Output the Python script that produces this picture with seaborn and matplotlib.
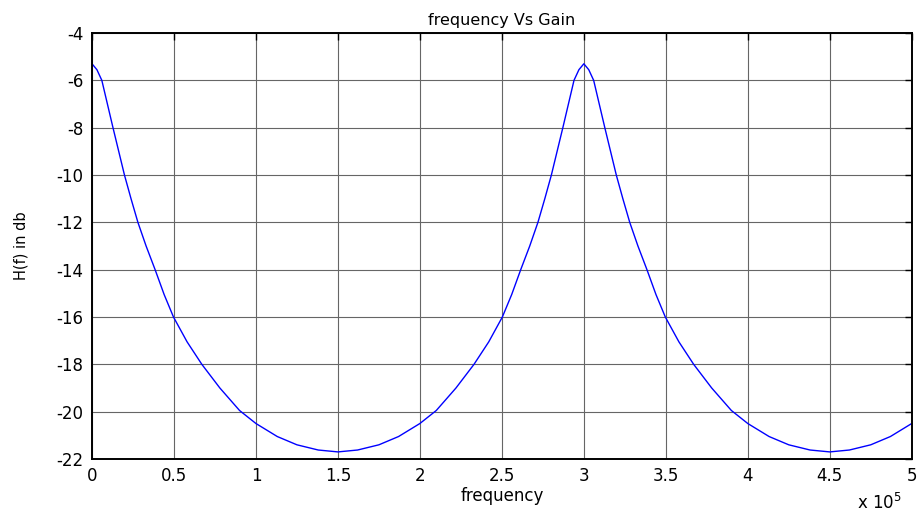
import matplotlib
matplotlib.use("Agg")
import matplotlib.pyplot as plt
import seaborn as sns
from matplotlib.ticker import FuncFormatter, MultipleLocator

# frequency (kHz) and gain (dB)
freq_khz = [0, 3, 6, 9.4, 12.8, 16.3, 19.8, 23.8, 28, 33, 38.5, 44, 49.7, 58, 67, 78, 90,
            100, 113, 125, 138, 150,
            162, 175, 187, 200, 210, 222, 233, 242, 250.3, 256, 261.5, 267, 272, 276.2,
            280.2, 283.7, 287.2, 290.6, 294, 297, 300,
            303, 306, 309.4, 312.8, 316.3, 319.8, 323.8, 328, 333, 338.5, 344, 349.7, 358,
            367, 378, 390, 400, 413, 425, 438, 450,
            462, 475, 487, 500]
gain = [-5.3, -5.55, -6.0, -7.0, -8.0, -9.0, -10.0, -11.0, -12.0, -13.0, -14.0, -15.05,
        -16.0, -17.05, -18.0, -19.0, -19.95, -20.5, -21.05, -21.4, -21.62, -21.7,
        -21.62, -21.4, -21.05, -20.5, -19.95, -19.0, -18.0, -17.05, -16.0, -15.05, -14.0,
        -13.0, -12.0, -11.0, -10.0, -9.0, -8.0, -7.0, -6.0, -5.55, -5.3,
        -5.55, -6.0, -7.0, -8.0, -9.0, -10.0, -11.0, -12.0, -13.0, -14.0, -15.05, -16.0,
        -17.05, -18.0, -19.0, -19.95, -20.5, -21.05, -21.4, -21.62, -21.7,
        -21.62, -21.4, -21.05, -20.5]
freq = [f * 1e3 for f in freq_khz]

sns.set_style("white")
plt.rcParams['font.family'] = ['DejaVu Sans']
plt.rcParams['axes.unicode_minus'] = False
plt.rcParams['text.color'] = 'black'
plt.rcParams['axes.labelcolor'] = 'black'

fig = plt.figure(figsize=(9.2, 5.12), dpi=100)
ax = fig.add_axes([0.1, 0.1035, 0.891, 0.832])

sns.lineplot(x=freq, y=gain, ax=ax, color='#0000ff', linewidth=1.0)

ax.set_xlim(0, 5e5)
ax.set_ylim(-22, -4)
ax.xaxis.set_major_locator(MultipleLocator(0.5e5))
ax.yaxis.set_major_locator(MultipleLocator(2))
ax.xaxis.set_major_formatter(FuncFormatter(lambda v, p: f"{v/1e5:g}"))
ax.grid(True, color='0.4', linewidth=0.8)
ax.tick_params(direction='in', length=5, width=1, top=True, right=True,
               labelsize=12, colors='black', pad=6)
for s in ax.spines.values():
    s.set_color('black')
    s.set_linewidth(1.4)

ax.set_title("frequency Vs Gain", fontsize=11.5, pad=6, color='black')
ax.set_xlabel("frequency", fontsize=12, labelpad=1)
ax.set_ylabel("H(f) in db", fontsize=10.5, labelpad=20)
fig.text(0.931, 0.018, r"x 10$^5$", fontsize=12, ha='left', va='center')

fig.savefig("out.png", dpi=100, facecolor='white')
